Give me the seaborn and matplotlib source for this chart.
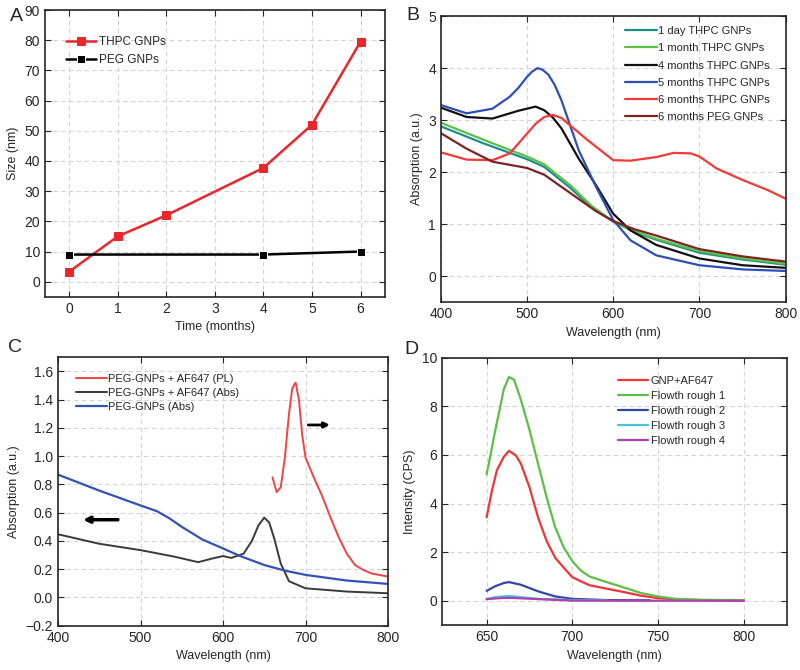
import numpy as np
import pandas as pd
import matplotlib
matplotlib.use("Agg")
import matplotlib.pyplot as plt
import seaborn as sns

# ---- panel A data: particle size vs time
months_thpc = [0, 1, 2, 4, 5, 6]
size_thpc = [3.3, 15.0, 22.0, 37.7, 52.0, 79.5]
months_peg = [0, 4, 6]
size_peg = [9.0, 9.0, 10.0]

# ---- panel B data: absorption spectra
wl_b = [400, 430, 460, 480, 490, 500, 505, 512, 518, 525, 532, 540, 550, 560, 580, 600, 620, 650, 700, 750, 800]
abs_5m = [3.29, 3.13, 3.22, 3.45, 3.62, 3.83, 3.92, 4.0, 3.97, 3.87, 3.68, 3.38, 2.90, 2.42, 1.72, 1.08, 0.69, 0.40, 0.21, 0.13, 0.10]
wl_b4 = [400, 430, 460, 480, 490, 500, 510, 520, 530, 540, 560, 580, 600, 620, 650, 700, 750, 800]
abs_4m = [3.24, 3.06, 3.03, 3.13, 3.18, 3.22, 3.26, 3.19, 3.05, 2.84, 2.26, 1.75, 1.20, 0.88, 0.60, 0.34, 0.21, 0.16]
wl_b6 = [400, 430, 460, 480, 500, 510, 520, 530, 540, 550, 570, 590, 600, 620, 650, 670, 690, 700, 720, 750, 780, 800]
abs_6m = [2.38, 2.24, 2.23, 2.36, 2.74, 2.93, 3.06, 3.10, 3.04, 2.90, 2.62, 2.36, 2.23, 2.22, 2.29, 2.37, 2.36, 2.30, 2.07, 1.85, 1.65, 1.49]
wl_bs = [400, 450, 500, 520, 550, 575, 600, 625, 650, 700, 750, 800]
abs_1d = [2.88, 2.55, 2.25, 2.10, 1.70, 1.32, 1.05, 0.85, 0.70, 0.45, 0.32, 0.22]
abs_1m = [2.95, 2.62, 2.30, 2.15, 1.75, 1.35, 1.05, 0.86, 0.72, 0.48, 0.34, 0.24]
wl_bp = [400, 430, 460, 500, 520, 550, 580, 600, 625, 650, 700, 750, 800]
abs_peg = [2.75, 2.45, 2.20, 2.08, 1.95, 1.60, 1.25, 1.06, 0.90, 0.78, 0.52, 0.38, 0.28]

# ---- panel C data
wl_c_blue = [400, 450, 500, 520, 535, 550, 575, 600, 620, 650, 675, 700, 750, 800]
abs_c_blue = [0.869, 0.756, 0.651, 0.61, 0.56, 0.50, 0.41, 0.347, 0.295, 0.23, 0.19, 0.16, 0.12, 0.096]
wl_c_black = [400, 450, 500, 540, 570, 590, 600, 610, 625, 635, 643, 650, 656, 662, 670, 680, 700, 750, 800]
abs_c_black = [0.447, 0.38, 0.335, 0.29, 0.25, 0.28, 0.293, 0.28, 0.31, 0.40, 0.51, 0.565, 0.53, 0.42, 0.24, 0.115, 0.065, 0.042, 0.03]
wl_c_red = [660, 665, 670, 675, 680, 684, 688, 692, 696, 700, 710, 720, 730, 740, 750, 760, 770, 780, 800]
pl_c_red = [0.85, 0.745, 0.78, 0.99, 1.30, 1.48, 1.52, 1.40, 1.15, 0.99, 0.85, 0.72, 0.57, 0.43, 0.31, 0.23, 0.195, 0.17, 0.148]

# ---- panel D data
wl_d = [650, 652, 655, 658, 660, 663, 666, 670, 675, 680, 685, 690, 695, 700, 705, 710, 720, 730, 740, 750, 760, 775, 800]
int_fr1 = [5.2, 5.9, 7.0, 8.0, 8.7, 9.21, 9.1, 8.27, 7.03, 5.64, 4.26, 3.02, 2.19, 1.63, 1.24, 1.0, 0.77, 0.55, 0.32, 0.18, 0.08, 0.04, 0.03]
wl_d_red = [650, 653, 656, 660, 663, 667, 670, 675, 680, 685, 690, 695, 700, 705, 710, 720, 730, 740, 750, 760, 775, 800]
int_gnp = [3.43, 4.5, 5.37, 5.92, 6.17, 5.99, 5.64, 4.67, 3.43, 2.46, 1.77, 1.36, 0.97, 0.8, 0.64, 0.5, 0.36, 0.21, 0.11, 0.06, 0.03, 0.02]
wl_d_fr2 = [650, 655, 660, 663, 670, 680, 690, 700, 720, 745]
int_fr2 = [0.41, 0.6, 0.73, 0.77, 0.66, 0.39, 0.18, 0.08, 0.03, 0.02]
wl_d_fr3 = [650, 655, 663, 670, 680, 700, 720]
int_fr3 = [0.07, 0.15, 0.2, 0.15, 0.08, 0.03, 0.02]
wl_d_fr4 = [650, 660, 665, 680, 700, 800]
int_fr4 = [0.07, 0.12, 0.12, 0.07, 0.01, 0.0]

sns.set_style("ticks")
plt.rcParams["font.family"] = ["Liberation Sans", "DejaVu Sans"]
plt.rcParams["font.size"] = 10

fig = plt.figure(figsize=(8, 6.7), dpi=100)
axA = fig.add_axes([0.056, 0.557, 0.425, 0.428])
axB = fig.add_axes([0.551, 0.549, 0.431, 0.427])
axC = fig.add_axes([0.0725, 0.066, 0.4125, 0.401])
axD = fig.add_axes([0.5525, 0.067, 0.431, 0.399])

for ax in [axA, axB, axC, axD]:
    ax.grid(True, color="#d4d4d4", linestyle=(0, (4, 3)), linewidth=0.8)
    ax.tick_params(direction="in", top=True, right=True, labelsize=10, length=4)
    for s in ax.spines.values():
        s.set_linewidth(1.2)

# A
red_a = "#e8272b"
sns.lineplot(x=months_thpc, y=size_thpc, ax=axA, color=red_a, marker="s", markersize=5.5,
             markeredgecolor=red_a, linewidth=1.8, label="THPC GNPs")
sns.lineplot(x=months_peg, y=size_peg, ax=axA, color="black", marker="s", markersize=5.5,
             linewidth=1.8, label="PEG GNPs")
axA.set_xlim(-0.5, 6.5)
axA.set_ylim(-5, 90)
axA.set_xticks(range(0, 7))
axA.set_yticks(range(0, 91, 10))
axA.set_xlabel("Time (months)", fontsize=9)
axA.set_ylabel("Size (nm)", fontsize=9)
axA.legend(loc="upper left", frameon=False, fontsize=8.5, bbox_to_anchor=(0.03, 0.945),
           handlelength=2.6, handletextpad=0.2, labelspacing=0.5)

# B
b_series = [
    (wl_bs, abs_1d, "#1e8e88", "1 day THPC GNPs"),
    (wl_bs, abs_1m, "#5cbf46", "1 month THPC GNPs"),
    (wl_b4, abs_4m, "#111111", "4 months THPC GNPs"),
    (wl_b, abs_5m, "#2c4fb8", "5 months THPC GNPs"),
    (wl_b6, abs_6m, "#f23a36", "6 months THPC GNPs"),
    (wl_bp, abs_peg, "#7a2424", "6 months PEG GNPs"),
]
for xs, ys, c, lab in b_series:
    sns.lineplot(x=xs, y=ys, ax=axB, color=c, linewidth=1.6, label=lab)
axB.set_xlim(400, 800)
axB.set_ylim(-0.5, 5)
axB.set_xticks([400, 500, 600, 700, 800])
axB.set_yticks([0, 1, 2, 3, 4, 5])
axB.set_xlabel("Wavelength (nm)", fontsize=9)
axB.set_ylabel("Absorption (a.u.)", fontsize=9)
axB.legend(loc="upper left", frameon=False, fontsize=8, handlelength=2.9,
           handletextpad=0.1, labelspacing=0.65, bbox_to_anchor=(0.505, 1.0))

# C
sns.lineplot(x=wl_c_red, y=pl_c_red, ax=axC, color="#f04444", linewidth=1.4,
             label="PEG-GNPs + AF647 (PL)", sort=False)
sns.lineplot(x=wl_c_black, y=abs_c_black, ax=axC, color="#3a3a3a", linewidth=1.4,
             label="PEG-GNPs + AF647 (Abs)")
sns.lineplot(x=wl_c_blue, y=abs_c_blue, ax=axC, color="#3352b8", linewidth=1.6,
             label="PEG-GNPs (Abs)")
axC.annotate("", xy=(733, 1.22), xytext=(700, 1.22),
             arrowprops=dict(arrowstyle="-|>", color="black", lw=2, mutation_scale=8))
axC.annotate("", xy=(427, 0.55), xytext=(476, 0.55),
             arrowprops=dict(arrowstyle="-|>", color="black", lw=2.5, mutation_scale=9))
axC.set_xlim(400, 800)
axC.set_ylim(-0.2, 1.7)
axC.set_xticks([400, 500, 600, 700, 800])
axC.set_yticks(np.round(np.arange(-0.2, 1.61, 0.2), 1))
axC.set_yticklabels(["\u22120.2"] + [f"{v:.1f}" for v in np.arange(0, 1.61, 0.2)])
axC.set_xlabel("Wavelength (nm)", fontsize=9)
axC.set_ylabel("Absorption (a.u.)", fontsize=9)
axC.legend(loc="upper left", frameon=False, fontsize=8, handlelength=2.8,
           handletextpad=0.1, labelspacing=0.35, bbox_to_anchor=(0.025, 0.975))

# D
d_series = [
    (wl_d_red, int_gnp, "#ee3636", "GNP+AF647"),
    (wl_d, int_fr1, "#5cbf46", "Flowth rough 1"),
    (wl_d_fr2, int_fr2, "#3346aa", "Flowth rough 2"),
    (wl_d_fr3, int_fr3, "#44c8d8", "Flowth rough 3"),
    (wl_d_fr4, int_fr4, "#b040b0", "Flowth rough 4"),
]
for xs, ys, c, lab in d_series:
    sns.lineplot(x=xs, y=ys, ax=axD, color=c, linewidth=1.6, label=lab)
axD.set_xlim(624, 825)
axD.set_ylim(-1, 10)
axD.set_xticks([650, 700, 750, 800])
axD.set_yticks([0, 2, 4, 6, 8, 10])
axD.set_xlabel("Wavelength (nm)", fontsize=9)
axD.set_ylabel("Intensity (CPS)", fontsize=9)
axD.legend(loc="upper left", frameon=False, fontsize=8, handlelength=2.7,
           handletextpad=0.3, labelspacing=0.45, bbox_to_anchor=(0.48, 0.97))

fig.text(0.012, 0.968, "A", fontsize=14)
fig.text(0.508, 0.970, "B", fontsize=14)
fig.text(0.010, 0.474, "C", fontsize=14)
fig.text(0.506, 0.472, "D", fontsize=14)

fig.savefig("out.png", dpi=100)
